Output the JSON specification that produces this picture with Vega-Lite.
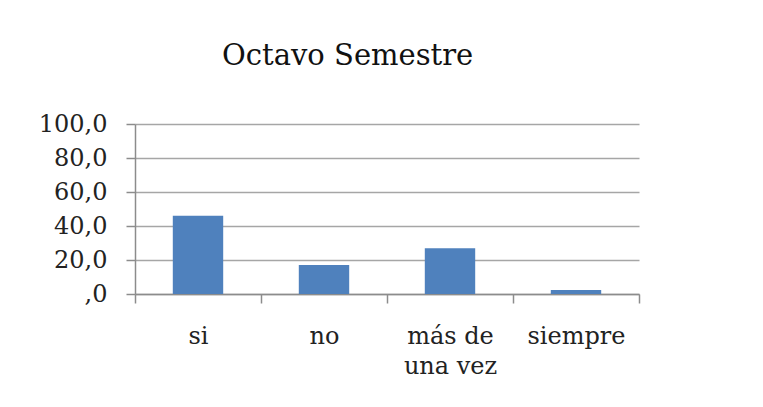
{
  "$schema": "https://vega.github.io/schema/vega-lite/v6.json",
  "width": 504,
  "height": 170,
  "autosize": "none",
  "padding": {"left": 135, "top": 124, "right": 124, "bottom": 113},
  "background": "white",
  "title": {
    "text": "Octavo Semestre",
    "anchor": "start",
    "frame": "group",
    "dx": 87,
    "offset": 18,
    "baseline": "alphabetic",
    "font": "DejaVu Serif",
    "fontSize": 29,
    "fontWeight": "normal",
    "color": "#111111"
  },
  "data": {
    "values": [
      {"respuesta": "si", "porcentaje": 46.1},
      {"respuesta": "no", "porcentaje": 17.1},
      {"respuesta": "más de una vez", "porcentaje": 26.9},
      {"respuesta": "siempre", "porcentaje": 2.4}
    ]
  },
  "mark": {"type": "bar", "color": "#4F81BD", "width": {"band": 0.4}},
  "encoding": {
    "x": {
      "field": "respuesta",
      "type": "nominal",
      "sort": null,
      "scale": {"paddingInner": 0, "paddingOuter": 0},
      "axis": {
        "title": null,
        "labelAngle": 0,
        "tickBand": "extent",
        "tickSize": 9,
        "tickColor": "#8c8c8c",
        "tickWidth": 1.5,
        "domainColor": "#8c8c8c",
        "domainWidth": 1.5,
        "labelFont": "DejaVu Serif",
        "labelFontSize": 24,
        "labelColor": "#222222",
        "labelPadding": 21,
        "labelLineHeight": 30,
        "labelExpr": "datum.label == 'más de una vez' ? ['más de', 'una vez'] : datum.label",
        "grid": false
      }
    },
    "y": {
      "field": "porcentaje",
      "type": "quantitative",
      "scale": {"domain": [0, 100]},
      "axis": {
        "title": null,
        "values": [0, 20, 40, 60, 80, 100],
        "labelExpr": "datum.value == 0 ? ',0' : replace(format(datum.value, '.1f'), '.', ',')",
        "tickSize": 9,
        "tickColor": "#8c8c8c",
        "tickWidth": 1.5,
        "domainColor": "#8c8c8c",
        "domainWidth": 1.5,
        "gridColor": "#a6a6a6",
        "gridWidth": 1.5,
        "labelFont": "DejaVu Serif",
        "labelFontSize": 24,
        "labelColor": "#222222",
        "labelPadding": 19
      }
    }
  },
  "config": {"view": {"stroke": null}}
}
